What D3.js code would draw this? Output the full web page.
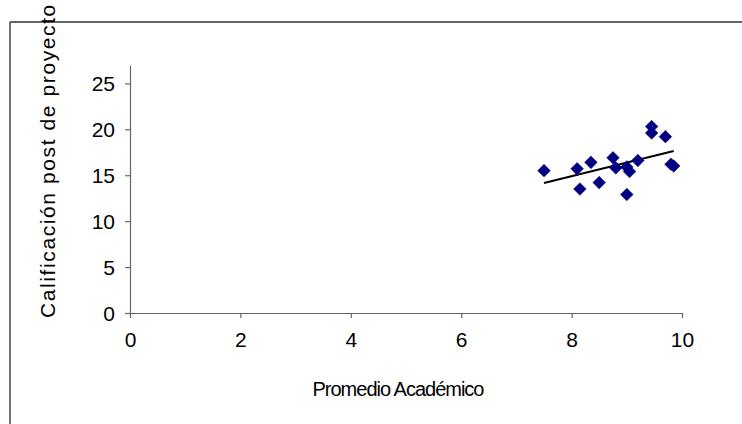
<!DOCTYPE html>
<html>
<head>
<meta charset="utf-8">
<script src="https://cdn.jsdelivr.net/npm/d3@7/dist/d3.min.js"></script>
<style>
  html, body { margin: 0; padding: 0; background: #fff; }
  svg { display: block; font-family: "Liberation Sans", Arial, sans-serif; }
</style>
</head>
<body>
<svg id="chart" width="742" height="424"></svg>
<script>
// Promedio académico vs. calificación posterior al proyecto
const promedio = [7.5, 8.1, 8.15, 8.35, 8.5, 8.75, 8.8, 9.0, 9.05, 9.0, 9.2, 9.45, 9.45, 9.7, 9.8, 9.85];
const calificacion = [15.5, 15.7, 13.5, 16.4, 14.2, 16.9, 15.8, 15.9, 15.4, 12.9, 16.6, 20.3, 19.6, 19.2, 16.2, 16.0];
const xTicks = [0, 2, 4, 6, 8, 10];
const yTicks = [0, 5, 10, 15, 20, 25];
const xTitle = "Promedio Académico";
const yTitle = "Calificación post de proyecto";

const svg = d3.select("#chart");

// outer chart frame (top and left edges visible in the canvas)
svg.append("line").attr("x1", 10).attr("x2", 742).attr("y1", 22).attr("y2", 22)
  .attr("stroke", "#333").attr("stroke-width", 1.5);
svg.append("line").attr("x1", 10).attr("x2", 10).attr("y1", 22).attr("y2", 424)
  .attr("stroke", "#444").attr("stroke-width", 1.5);

const x = d3.scaleLinear().domain([0, 10]).range([130, 682]);
const y = d3.scaleLinear().domain([0, 27]).range([313, 65]);

const axisColor = "#666";
const tickFont = 21;

// x axis
const gx = svg.append("g").attr("transform", `translate(0,${y(0)})`)
  .call(d3.axisBottom(x).tickValues(xTicks).tickSize(5).tickPadding(10).tickSizeOuter(0));
// y axis
const gy = svg.append("g").attr("transform", `translate(${x(0)},0)`)
  .call(d3.axisLeft(y).tickValues(yTicks).tickSize(5).tickPadding(10).tickSizeOuter(0));

[gx, gy].forEach(g => {
  g.select(".domain").attr("stroke", axisColor).attr("stroke-width", 1.2);
  g.selectAll(".tick line").attr("stroke", axisColor).attr("stroke-width", 1.2);
  g.selectAll(".tick text").attr("fill", "#000").style("font-size", tickFont + "px")
    .style("font-family", "'Liberation Sans', Arial, sans-serif");
});
gx.selectAll(".tick text").attr("dy", "0.9em");
gy.selectAll(".tick text").attr("dy", "0.36em");

// axis titles
svg.append("text").attr("x", 398).attr("y", 396).attr("text-anchor", "middle")
  .style("font-size", "20px").style("letter-spacing", "-1px").attr("fill", "#000")
  .text(xTitle);
svg.append("text").attr("transform", "translate(55,318) rotate(-90)")
  .attr("text-anchor", "start")
  .style("font-size", "21px").style("letter-spacing", "1.6px").attr("fill", "#000")
  .text(yTitle);

// linear trend line (least squares)
const n = promedio.length;
const mx = d3.mean(promedio), my = d3.mean(calificacion);
let sxy = 0, sxx = 0;
for (let i = 0; i < n; i++) {
  sxy += (promedio[i] - mx) * (calificacion[i] - my);
  sxx += (promedio[i] - mx) ** 2;
}
const slope = sxy / sxx, intercept = my - slope * mx;
const [x0, x1] = d3.extent(promedio);
svg.append("line")
  .attr("x1", x(x0)).attr("y1", y(intercept + slope * x0))
  .attr("x2", x(x1)).attr("y2", y(intercept + slope * x1))
  .attr("stroke", "#000").attr("stroke-width", 2);

// data markers (diamonds)
const diamond = d3.symbol().type(d3.symbolSquare).size(80);
svg.append("g").selectAll("path")
  .data(d3.range(n))
  .join("path")
  .attr("d", diamond)
  .attr("transform", i => `translate(${x(promedio[i])},${y(calificacion[i])}) rotate(45)`)
  .attr("fill", "#000080")
  .attr("stroke", "#000080").attr("stroke-width", 0.5);
</script>
</body>
</html>
